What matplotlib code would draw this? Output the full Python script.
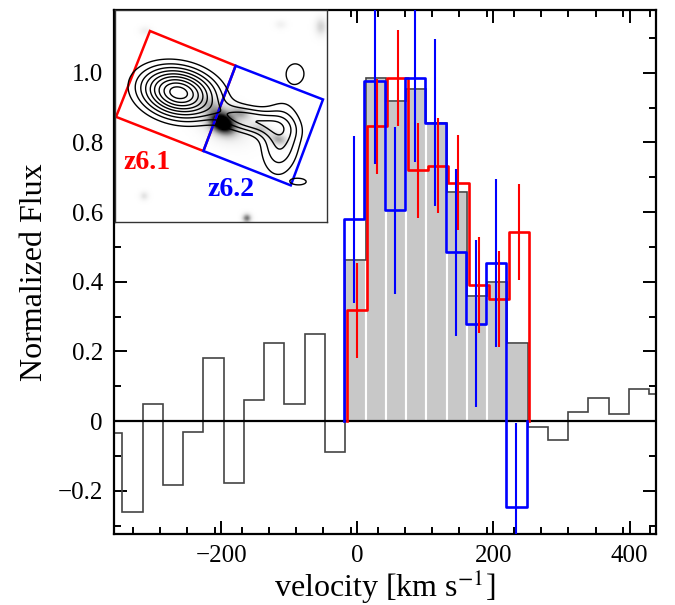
import numpy as np
import matplotlib
matplotlib.use("Agg")
import matplotlib.pyplot as plt
from matplotlib.patches import Polygon
from matplotlib.ticker import FixedLocator, FuncFormatter

plt.rcParams['font.family'] = ['Liberation Serif', 'DejaVu Serif']
plt.rcParams['mathtext.fontset'] = 'stix'

# channel edges of the full spectrum (km/s)
edges = [-375.6, -345.8, -316.0, -286.2, -256.4, -226.6, -196.8, -167.0,
         -137.2, -107.4, -77.6, -47.8, -18.0, 11.8, 41.6, 71.4, 101.2,
         131.0, 160.8, 190.6, 220.4, 250.2, 280.0, 309.8, 339.6, 369.4,
         399.2, 429.0, 458.8]
# total spectrum, normalized
flux_total = [-0.035, -0.26, 0.049, -0.184, -0.032, 0.181, -0.178, 0.06,
              0.223, 0.048, 0.25, -0.09,
              0.462, 0.985, 0.918, 0.952, 0.855, 0.658, 0.36, 0.40, 0.223,
              -0.016, -0.055, 0.025, 0.065, 0.019, 0.093, 0.077]
# channels of the line (index range into the total spectrum)
line_first, line_last = 12, 20

# z6.1 (red) and z6.2 (blue) region spectra over the line channels
flux_z61 = [0.318, 0.846, 0.985, 0.72, 0.733, 0.684, 0.39, 0.35, 0.543]
err_z61 = [0.137, 0.137, 0.137, 0.137, 0.137, 0.137, 0.137, 0.137, 0.137]
flux_z62 = [0.579, 0.977, 0.605, 0.985, 0.856, 0.484, 0.28, 0.454, -0.246]
err_z62 = [0.24, 0.24, 0.24, 0.24, 0.24, 0.24, 0.24, 0.24, 0.24]
shift_z61 = 2.5
shift_z62 = -1.5

xticks = [-200, 0, 200, 400]
xminor = [-330, -290, -250, -210, -170, -130, -90, -50, -10, 30, 70, 110,
          150, 190, 230, 270, 310, 350, 390, 430]

# inset: regions (fractional image coords, y down)
box_z61 = [(0.165, 0.099), (0.569, 0.263), (0.417, 0.665), (0.005, 0.504)]
box_z62 = [(0.569, 0.263), (0.981, 0.422), (0.829, 0.827), (0.417, 0.665)]
# contour emission components: x, y, amp, sx, sy, angle(deg)
contour_blobs = [(0.30, 0.39, 10.0, 0.11, 0.07, 12),
                 (0.64, 0.52, 3.4, 0.11, 0.04, 12),
                 (0.78, 0.61, 2.8, 0.06, 0.11, 5),
                 (0.85, 0.30, 1.5, 0.04, 0.045, 0),
                 (0.87, 0.81, 1.3, 0.035, 0.015, 0)]
contour_levels = [0.9, 1.7, 2.6, 3.6, 4.7, 5.8, 7.0, 8.2, 9.3]
# grey-scale image components
image_blobs = [(0.505, 0.535, 1.0, 0.04, 0.03, 30),
               (0.50, 0.53, 0.35, 0.08, 0.05, 30),
               (0.435, 0.44, 0.25, 0.05, 0.025, 20),
               (0.592, 0.487, 0.35, 0.035, 0.02, 20),
               (0.686, 0.566, 0.30, 0.035, 0.02, 20),
               (0.77, 0.613, 0.40, 0.03, 0.02, 15),
               (0.97, 0.08, 0.25, 0.02, 0.03, 0),
               (0.62, 0.985, 0.55, 0.015, 0.015, 0),
               (0.135, 0.88, 0.18, 0.015, 0.015, 0),
               (0.14, 0.10, 0.12, 0.02, 0.015, 0),
               (0.78, 0.07, 0.10, 0.02, 0.015, 0)]


def blob_map(blobs, gx, gy):
    out = np.zeros_like(gx)
    for x0, y0, amp, sx, sy, ang in blobs:
        t = np.deg2rad(ang)
        dx, dy = gx - x0, gy - y0
        u = dx * np.cos(t) + dy * np.sin(t)
        w = -dx * np.sin(t) + dy * np.cos(t)
        out += amp * np.exp(-0.5 * ((u / sx) ** 2 + (w / sy) ** 2))
    return out


def steps(e, vals):
    xs = np.repeat(e, 2)
    ys = np.concatenate([[0], np.repeat(vals, 2), [0]])
    return xs, ys


fig = plt.figure(figsize=(6.75, 6.05), dpi=100)
ax = fig.add_axes([0.1689, 0.1169, 0.803, 0.8666])

edges = np.array(edges)
flux_total = np.array(flux_total)
line_edges = edges[line_first:line_last + 2]
centers = 0.5 * (line_edges[:-1] + line_edges[1:])

ax.bar(centers, flux_total[line_first:line_last + 1],
       width=np.diff(line_edges), color='#c8c8c8', edgecolor='white',
       linewidth=1.5, zorder=1)
ax.stairs(flux_total, edges, color='#444444', linewidth=1.2, zorder=2)
ax.axhline(0, color='black', linewidth=1.6, zorder=3)

for vals, errs, shift, col in [(flux_z61, err_z61, shift_z61, 'red'),
                               (flux_z62, err_z62, shift_z62, 'blue')]:
    xs, ys = steps(line_edges + shift, vals)
    ax.plot(xs, ys, color=col, linewidth=1.9, zorder=4)
    ax.errorbar(centers + shift, vals, yerr=errs, fmt='none', ecolor=col,
                elinewidth=1.5, capsize=0, zorder=5)

ax.set_xlim(-358, 439)
ax.set_ylim(-0.325, 1.18)
ax.xaxis.set_major_locator(FixedLocator(xticks))
ax.xaxis.set_minor_locator(FixedLocator(xminor))
ax.yaxis.set_major_locator(FixedLocator([-0.2, 0, 0.2, 0.4, 0.6, 0.8, 1.0]))
ax.yaxis.set_minor_locator(FixedLocator(np.arange(-0.3, 1.15, 0.1)))


def fmt_y(v, pos):
    if abs(v) < 1e-9:
        return '0'
    return f'{v:.1f}'.replace('-', '\u2212')


ax.yaxis.set_major_formatter(FuncFormatter(fmt_y))
ax.xaxis.set_major_formatter(FuncFormatter(lambda v, p: f'{v:.0f}'.replace('-', '\u2212')))
ax.tick_params(which='both', direction='in', top=True, right=True,
               labelsize=18, width=1.4, pad=8)
ax.tick_params(which='major', length=9.5)
ax.tick_params(which='minor', length=4.7)
for sp in ax.spines.values():
    sp.set_linewidth(1.6)
ax.set_xlabel('velocity [km s$^{-1}$]', fontsize=23, labelpad=0)
ax.set_ylabel('Normalized Flux', fontsize=23, labelpad=6)

# inset map
ins = fig.add_axes([0.1689, 0.633, 0.317, 0.3505])
g = np.linspace(0, 1, 160)
gx, gy = np.meshgrid(g, g)
ins.imshow(blob_map(image_blobs, gx, gy), cmap='Greys', vmin=0, vmax=0.9,
           extent=[0, 1, 1, 0], interpolation='bilinear')
ins.contour(gx, gy, blob_map(contour_blobs, gx, gy), levels=contour_levels,
            colors='black', linewidths=1.0)
ins.add_patch(Polygon(box_z61, closed=True, fill=False, edgecolor='red',
                      linewidth=1.8))
ins.add_patch(Polygon(box_z62, closed=True, fill=False, edgecolor='blue',
                      linewidth=1.8))
ins.text(0.04, 0.748, 'z6.1', color='red', fontsize=20, fontweight='bold')
ins.text(0.435, 0.877, 'z6.2', color='blue', fontsize=20, fontweight='bold')
ins.set_xlim(0, 1)
ins.set_ylim(1, 0)
ins.set_xticks([])
ins.set_yticks([])
for sp in ins.spines.values():
    sp.set_linewidth(1.0)
    sp.set_color('#333333')

fig.savefig('out.png', dpi=100)
